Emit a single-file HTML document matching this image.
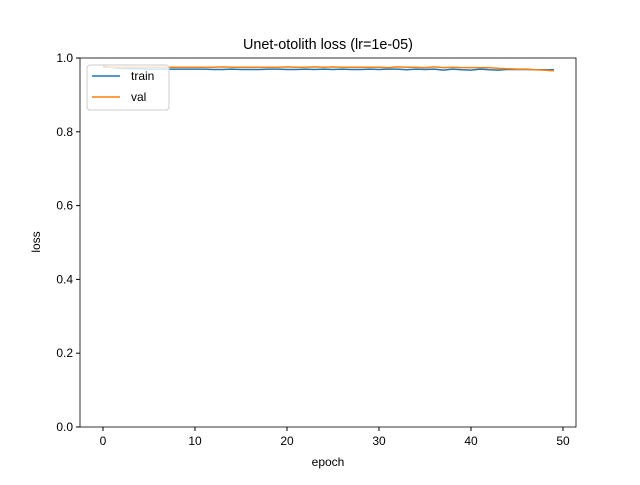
<!DOCTYPE html>
<html><head><meta charset="utf-8"><style>body{margin:0;background:#fff}svg{font-family:"Liberation Sans","DejaVu Sans",sans-serif}</style></head>
<body>
<svg id="c" width="640" height="480"></svg>
<script>
const epochs=[...Array(50).keys()];
const trainLoss=[0.978,0.974,0.972,0.971,0.971,0.970,0.970,0.970,0.970,0.970,0.970,0.970,0.969,0.969,0.970,0.969,0.969,0.969,0.970,0.970,0.969,0.969,0.970,0.969,0.970,0.969,0.970,0.969,0.969,0.970,0.969,0.970,0.970,0.968,0.970,0.969,0.970,0.967,0.970,0.968,0.967,0.970,0.968,0.967,0.969,0.969,0.969,0.968,0.968,0.968];
const valLoss=[0.975,0.975,0.975,0.975,0.975,0.975,0.975,0.975,0.975,0.975,0.975,0.975,0.975,0.976,0.975,0.975,0.975,0.975,0.975,0.975,0.976,0.975,0.975,0.976,0.975,0.976,0.975,0.975,0.975,0.975,0.975,0.974,0.976,0.975,0.975,0.974,0.976,0.974,0.975,0.974,0.974,0.974,0.974,0.972,0.971,0.970,0.970,0.968,0.967,0.965];
const xTicks=[0,10,20,30,40,50];
const yTicks=[0.0,0.2,0.4,0.6,0.8,1.0];
const L=80,R=576,T=58,B=427;
const xs=v=>103+(v/50)*460, ys=v=>B-(v-0)/(1-0)*(B-T);
const s=document.getElementById('c');const NS='http://www.w3.org/2000/svg';
function el(t,a,p){const e=document.createElementNS(NS,t);for(const k in a)e.setAttribute(k,a[k]);(p||s).appendChild(e);return e;}
function txt(x,y,t,a){const e=el('text',Object.assign({x,y,'font-size':12,fill:'#000'},a));e.textContent=t;return e;}
xTicks.forEach(v=>{const g=el('g',{});
el('line',{x1:xs(v),x2:xs(v),y1:B,y2:B+4,stroke:'#000'},g);txt(xs(v),B+18,String(v),{'text-anchor':'middle'}).remove();g.appendChild(txt(xs(v),B+18,String(v),{'text-anchor':'middle'}));});
yTicks.forEach(v=>{const g=el('g',{});
el('line',{x1:L-4,x2:L,y1:ys(v),y2:ys(v),stroke:'#000'},g);g.appendChild(txt(L-7,ys(v)+4,v.toFixed(1),{'text-anchor':'end'}));});
function line(d,c,n){const p=el('polyline',{points:d.map((v,i)=>xs(epochs[i])+','+ys(v)).join(' '),fill:'none',stroke:c,'stroke-width':1.5});}
line(trainLoss,'#1f77b4','train-line');line(valLoss,'#ff7f0e','val-line');
const fr=el('rect',{x:L,y:T,width:R-L,height:B-T,fill:'none',stroke:'#000','stroke-width':0.8});
const t=txt(328,49,'Unet-otolith loss (lr=1e-05)',{'text-anchor':'middle','font-size':14.4});
const xl=txt(328,466,'epoch',{'text-anchor':'middle'});
const yl=txt(0,0,'loss',{'text-anchor':'middle',transform:'translate(40,242) rotate(-90)'});
const lg=el('g',{});
el('rect',{x:87,y:65,width:82,height:45,rx:3,fill:'#fff','fill-opacity':0.8,stroke:'#ccc'},lg);
el('line',{x1:92,x2:120,y1:76,y2:76,stroke:'#1f77b4','stroke-width':1.5},lg);lg.appendChild(txt(131,80,'train'));
el('line',{x1:92,x2:120,y1:97,y2:97,stroke:'#ff7f0e','stroke-width':1.5},lg);lg.appendChild(txt(131,101,'val'));
</script>
</body></html>
